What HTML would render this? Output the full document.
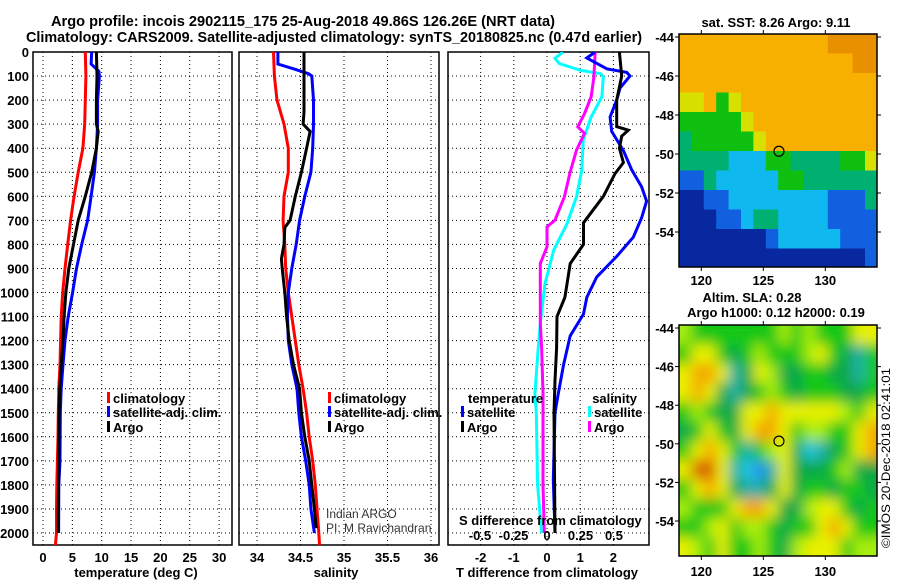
<!DOCTYPE html>
<html><head><meta charset="utf-8"><style>
html,body{margin:0;padding:0;background:#fff;}
svg{display:block;font-family:"Liberation Sans",Arial,sans-serif;}
.b{font-weight:bold;font-size:13px;}
</style></head><body>
<svg id="chart" width="900" height="580" viewBox="0 0 900 580" xmlns="http://www.w3.org/2000/svg">
<defs>
<clipPath id="c1"><rect x="679" y="34" width="198" height="233"/></clipPath>
<clipPath id="c2"><rect x="679" y="325" width="198" height="231"/></clipPath>
<clipPath id="p1"><rect x="33" y="52" width="199" height="493"/></clipPath>
<clipPath id="p2"><rect x="239" y="52" width="200" height="493"/></clipPath>
<clipPath id="p3"><rect x="448" y="52" width="201" height="493"/></clipPath>
<filter id="blur" x="0" y="0" width="1" height="1"><feGaussianBlur stdDeviation="6.5"/><feComponentTransfer><feFuncA type="table" tableValues="1 1"/></feComponentTransfer></filter>
</defs>
<text x="51" y="26" font-size="15" font-weight="bold" textLength="504" lengthAdjust="spacingAndGlyphs">Argo profile: incois 2902115_175 25-Aug-2018 49.86S 126.26E (NRT data)</text>
<text x="26" y="42" font-size="15" font-weight="bold" textLength="616" lengthAdjust="spacingAndGlyphs">Climatology: CARS2009. Satellite-adjusted climatology: synTS_20180825.nc (0.47d earlier)</text>
<g id="grids"></g>
<g id="lines"></g>
<g id="maps"></g>
<g id="labels"></g>
</svg>
<script>
const NS="http://www.w3.org/2000/svg";
// ---- data ----
const depthTicks=[0,100,200,300,400,500,600,700,800,900,1000,1100,1200,1300,1400,1500,1600,1700,1800,1900,2000];
const tempTicks=[0,5,10,15,20,25,30];
const salTicks=[34,34.5,35,35.5,36];
const salTickLabels=["34","34.5","35","35.5","36"];
const dTTicks=[-2,-1,0,1,2];
const dSTicks=[-0.5,-0.25,0,0.25,0.5];
const dSTickLabels=["-0.5","-0.25","0","0.25","0.5"];

const climDepth=[0,100,200,300,400,500,600,700,800,900,1000,1100,1200,1300,1400,1500,1600,1700,1800,1900,2000,2055];
const climTemp=[7.2,7.3,7.2,7.1,6.8,6.0,5.3,4.7,4.2,3.75,3.35,3.1,3.0,2.9,2.7,2.6,2.55,2.45,2.35,2.3,2.3,2.1];
const climSal=[34.19,34.2,34.23,34.31,34.36,34.36,34.31,34.3,34.32,34.33,34.36,34.4,34.44,34.48,34.53,34.57,34.6,34.64,34.67,34.69,34.71,34.72];

const argoTDepth=[0,100,200,300,330,400,500,600,700,800,900,1000,1100,1200,1300,1400,1500,1700,1900,2000];
const argoTemp=[9.1,9.2,9.1,9.1,9.4,9.1,8.3,7.2,6.0,5.2,4.4,3.9,3.6,3.4,3.1,2.85,2.75,2.7,2.6,2.6];
const satTDepth=[0,50,80,100,200,300,400,500,600,700,800,900,1000,1100,1200,1300,1400,1500,1700,1800,2000];
const satTemp=[8.3,8.2,9.5,9.6,9.3,9.3,9.1,8.75,8.2,7.6,6.6,5.7,5.05,4.3,3.75,3.4,3.1,2.95,2.9,2.7,2.65];

const argoSDepth=[0,100,250,300,330,400,500,600,700,730,800,860,900,1000,1100,1200,1300,1400,1500,1600,1700,1800,1900,1980];
const argoSal=[34.54,34.54,34.54,34.53,34.61,34.57,34.51,34.44,34.38,34.32,34.31,34.28,34.29,34.32,34.34,34.37,34.42,34.49,34.51,34.55,34.6,34.63,34.66,34.68];
const satSDepth=[0,50,70,90,100,200,300,400,500,600,700,800,900,1000,1100,1200,1300,1400,1500,1600,1700,1800,1900,2000];
const satSal=[34.24,34.24,34.42,34.59,34.63,34.65,34.65,34.64,34.62,34.55,34.49,34.45,34.4,34.36,34.35,34.36,34.4,34.46,34.48,34.51,34.56,34.6,34.62,34.66];

const satDTDepth=[0,25,70,85,100,150,200,270,330,410,490,560,620,690,770,850,935,1020,1090,1180,1300,1420,1500,1780,2000];
const satDT=[1.45,1.2,1.8,2.4,2.5,2.2,2.1,1.9,1.95,2.3,2.55,2.85,3.0,2.85,2.6,2.1,1.5,1.2,1.1,0.7,0.5,0.34,0.24,0.19,0.24];
const argoDTDepth=[0,100,200,310,325,350,400,460,505,600,710,800,880,1020,1100,1230,1365,1500,2000];
const argoDT=[2.18,2.25,2.1,2.1,2.45,2.25,2.18,2.3,2.05,1.7,1.1,1.1,0.7,0.54,0.3,0.29,0.24,0.21,0.24];
const satDSDepth=[0,26,48,76,90,103,186,270,366,491,602,713,824,963,1129,1226,1420,1500,1800,2000];
const satDS=[0.12,0.06,0.09,0.25,0.4,0.42,0.41,0.33,0.27,0.26,0.22,0.15,0.05,-0.015,-0.05,-0.065,-0.09,-0.08,-0.07,-0.04];
const argoDSDepth=[0,103,186,256,311,338,408,505,602,699,727,810,880,1129,1226,1420,1500,1800,2000];
const argoDS=[0.36,0.35,0.33,0.28,0.23,0.28,0.22,0.17,0.13,0.06,0.0,0.0,-0.05,-0.05,-0.04,-0.03,-0.03,-0.03,-0.02];

const mapLonTicks=[120,125,130];
const mapLatTicks=[-44,-46,-48,-50,-52,-54];
const argoLon=126.26, argoLat=-49.86;
const sstRows=["OOOOOOOOOOOOoooo","OOOOOOOOOOOOOOoo","OOOOOOOOOOOOOOOO","YYOGYOOOOOOOOOOO","GGGGGYOOOOOOOOOO","TGGGGGYOOOOOOOOO","TTTTCCCGGTTTTGGY","BBTCCCCCGGTTTTTT","DDBBCCCCCCCCBBBT","DDDBBCTTCCCCBBBB","DDDDDDDBCCCCCBBB","DDDDDDDDDDDDDDDB"];
const sstColors={O:"#f8b000",o:"#e89000",Y:"#d8e000",G:"#10c010",T:"#00b070",C:"#10b8f0",B:"#1060e0",D:"#0828a0"};
const slaRows=["LGGGGGGGLGLGGGYY","GYYGgGLGGGLYGgTG","YOOYTgYLggGGggTG","YOYgTgGLGgGGGggG","GLGggYYOYYYYYLGY","gGYGgYOOYGLLGGYO","GYOYGTGLYgCTgGYO","YRRYTCBTYgggGLgg","GYOYgTTgYgGGgGGg","LGGGYOOYggLYYGgG","GGLYGLLGgGGYOYGG","YLGYGGLGgLYYYGLL"];
const slaColors={G:"#18c818",g:"#10a84a",L:"#a8ee10",Y:"#e8f000",O:"#f5a800",R:"#d86000",T:"#20b0a8",C:"#20c8e0",B:"#2090f0"};

// ---- scales ----
const yD=d=>52+d*0.2405;
const xT=t=>43+t*5.87;
const xS=s=>257+(s-34)*87;
const xdT=v=>547+v*33.2;
const xdS=v=>547+v*134;
const m1x=lon=>679+(lon-118.2)*12.4, m1y=lat=>37+(-44-lat)*19.5;
const m2x=lon=>679+(lon-118.2)*12.4, m2y=lat=>328+(-44-lat)*19.3;

function mk(tag,attrs,parent){const e=document.createElementNS(NS,tag);for(const k in attrs)e.setAttribute(k,attrs[k]);parent.appendChild(e);return e;}
const G=document.getElementById('grids'),L=document.getElementById('lines'),M=document.getElementById('maps'),T=document.getElementById('labels');

function txt(s,x,y,anchor,cls,name,extra){const e=mk('text',{x:x,y:y,'text-anchor':anchor||'start'},T);if(cls)e.setAttribute('class',cls);if(extra)for(const k in extra)e.setAttribute(k,extra[k]);e.textContent=s;


return e;}

// panels
const panels=[{x0:33,x1:232,n:'temperature-panel',vx:tempTicks.map(xT)},{x0:239,x1:439,n:'salinity-panel',vx:salTicks.map(xS)},{x0:448,x1:649,n:'difference-panel',vx:dTTicks.map(xdT)}];
panels.forEach(p=>{
  depthTicks.slice(1).forEach(d=>{const l=mk('line',{x1:p.x0,x2:p.x1,y1:yD(d),y2:yD(d),stroke:'#000','stroke-width':1,'stroke-dasharray':'1 3'},G);
  
  });
  p.vx.forEach(x=>{const l=mk('line',{x1:x,x2:x,y1:52,y2:545,stroke:'#000','stroke-width':1,'stroke-dasharray':'1 3'},G);
  
  });
  const r=mk('rect',{x:p.x0,y:52,width:p.x1-p.x0,height:493,fill:'none',stroke:'#000','stroke-width':1.5},G);
  
  
});

function line(ds,vs,sx,color,clip,name){const pts=ds.map((d,i)=>sx(vs[i]).toFixed(1)+','+yD(d).toFixed(1)).join(' ');
 const e=mk('polyline',{points:pts,fill:'none',stroke:color,'stroke-width':3,'stroke-linejoin':'miter','clip-path':'url(#'+clip+')'},L);
 
 }
line(climDepth,climTemp,xT,'#ff0000','p1','climatology-temperature-line');
line(satTDepth,satTemp,xT,'#0000ff','p1','satellite-temperature-line');
line(argoTDepth,argoTemp,xT,'#000','p1','argo-temperature-line');
line(climDepth,climSal,xS,'#ff0000','p2','climatology-salinity-line');
line(satSDepth,satSal,xS,'#0000ff','p2','satellite-salinity-line');
line(argoSDepth,argoSal,xS,'#000','p2','argo-salinity-line');
line(satDSDepth,satDS,xdS,'#00ffff','p3','satellite-salinity-diff-line');
line(argoDSDepth,argoDS,xdS,'#ff00ff','p3','argo-salinity-diff-line');
line(satDTDepth,satDT,xdT,'#0000ff','p3','satellite-temperature-diff-line');
line(argoDTDepth,argoDT,xdT,'#000','p3','argo-temperature-diff-line');

// axis labels
depthTicks.forEach(d=>txt(String(d),29,yD(d)+5,'end','b','depth-tick-label'));
tempTicks.forEach(t=>txt(String(t),xT(t),562,'middle','b','temperature-tick-label'));
salTicks.forEach((s,i)=>txt(salTickLabels[i],xS(s),562,'middle','b','salinity-tick-label'));
dTTicks.forEach(v=>txt(String(v),xdT(v),562,'middle','b','t-difference-tick-label'));
dSTicks.forEach((v,i)=>txt(dSTickLabels[i],xdS(v),540,'middle','b','s-difference-tick-label'));
txt('temperature (deg C)',136,577,'middle','b','temperature-axis-title');
txt('salinity',336,577,'middle','b','salinity-axis-title');
txt('T difference from climatology',547,577,'middle','b','t-difference-axis-title');
txt('S difference from climatology',459,525,'start','b','s-difference-axis-title');

// legends
function leg(x,y,color,label,name){const r=mk('rect',{x:x,y:y-6,width:3,height:11,fill:color},T);
 
 
 txt(label,x+6,y+5,'start','b',name);}
leg(107,398,'#ff0000','climatology','legend-climatology');
leg(107,412,'#0000ff','satellite-adj. clim.','legend-satellite-adj');
leg(107,427,'#000','Argo','legend-argo');
leg(328,398,'#ff0000','climatology','legend-climatology-sal');
leg(328,412,'#0000ff','satellite-adj. clim.','legend-satellite-adj-sal');
leg(328,427,'#000','Argo','legend-argo-sal');
txt('temperature',468,403,'start','b','legend-temperature-heading');
leg(461,412,'#0000ff','satellite','legend-temperature-satellite');
leg(461,427,'#000','Argo','legend-temperature-argo');
txt('salinity',637,403,'end','b','legend-salinity-heading');
leg(588,412,'#00ffff','satellite','legend-salinity-satellite');
leg(588,427,'#ff00ff','Argo','legend-salinity-argo');
txt('Indian ARGO',326,518,'start',null,'credit-indian-argo',{'font-size':'12','fill':'#333'});
txt('PI: M Ravichandran',326,532,'start',null,'credit-pi',{'font-size':'12','fill':'#333'});

// maps
function drawMap(rows,colors,ox,oy,rowH,clip,name,blur){
 const g=mk('g',{'clip-path':'url(#'+clip+')'},M);
 
 
 const inner=mk('g',blur?{filter:'url(#blur)'}:{},g);
 rows.forEach((row,r)=>{for(let c=0;c<row.length;c++){
   mk('rect',{x:(ox+c*12.4).toFixed(1),y:(oy+r*rowH).toFixed(1),width:13,height:rowH+0.6,fill:colors[row[c]]},inner);}});
}
drawMap(sstRows,sstColors,679,34,19.5,'c1','sst-map',false);
drawMap(slaRows,slaColors,679,325,19.3,'c2','sla-map',true);
[[34,267,m1x,m1y,'sst'],[325,556,m2x,m2y,'sla']].forEach(([top,bot,fx,fy,n])=>{
 const r=mk('rect',{x:679,y:top,width:198,height:bot-top,fill:'none',stroke:'#000','stroke-width':1.5},M);
 
 
 const c=mk('circle',{cx:fx(argoLon),cy:fy(argoLat),r:5,fill:'none',stroke:'#000','stroke-width':1.2},M);
 
 
 mapLatTicks.forEach(l=>{txt(String(l),674,fy(l)+5,'end','b',n+'-lat-label');
   mk('line',{x1:877,x2:881,y1:fy(l),y2:fy(l),stroke:'#000'},M);mk('line',{x1:675,x2:679,y1:fy(l),y2:fy(l),stroke:'#000'},M);});
 mapLonTicks.forEach(l=>{txt(String(l),fx(l),bot+(n==='sst'?18:20),'middle','b',n+'-lon-label');
   mk('line',{x1:fx(l),x2:fx(l),y1:bot,y2:bot+4,stroke:'#000'},M);mk('line',{x1:fx(l),x2:fx(l),y1:top-4,y2:top,stroke:'#000'},M);});
});
txt('sat. SST: 8.26 Argo: 9.11',776,27,'middle','b','sst-map-title');
txt('Altim. SLA: 0.28',752,302,'middle','b','sla-map-title');
txt('Argo h1000: 0.12 h2000: 0.19',776,317,'middle','b','sla-map-subtitle');
txt('©IMOS 20-Dec-2018 02:41:01',0,0,'start',null,'timestamp',{'font-size':'12','transform':'translate(890,548) rotate(-90)','textLength':'180','lengthAdjust':'spacingAndGlyphs'});
</script>
</body></html>
